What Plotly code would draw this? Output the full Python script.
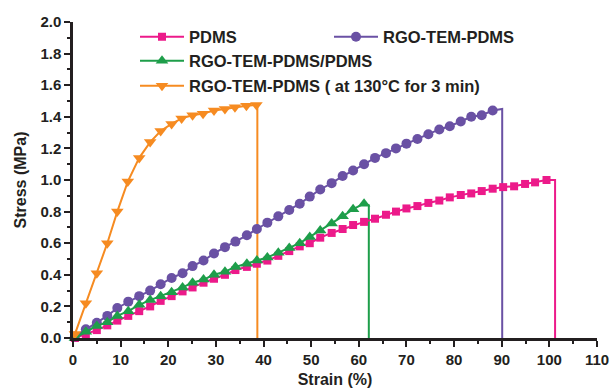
import plotly.graph_objects as go

# ---------------- data ----------------
grid = [0.4, 2.7, 5.0, 7.2, 9.3, 11.6, 13.9, 16.2, 18.4, 20.7, 23.0, 25.1, 27.4, 29.6, 31.9,
        34.1, 36.5, 38.6, 40.8, 43.1, 45.4, 47.6, 49.7, 51.9, 54.3, 56.6, 58.8, 61.1, 63.4,
        65.7, 67.8, 70.0, 72.3, 74.6, 76.9, 79.1, 81.4, 83.6, 85.8, 88.1, 90.3, 92.6, 94.9,
        97.0, 99.4]

pdms_strain = grid[:45]
pdms_stress = [0.0, 0.025, 0.05, 0.08, 0.11, 0.14, 0.17, 0.20, 0.235, 0.265,
               0.295, 0.32, 0.35, 0.375, 0.40, 0.43, 0.45, 0.47, 0.49, 0.52,
               0.55, 0.58, 0.60, 0.635, 0.665, 0.69, 0.715, 0.735, 0.755, 0.78,
               0.80, 0.82, 0.835, 0.855, 0.87, 0.89, 0.905, 0.915, 0.93, 0.945,
               0.955, 0.96, 0.975, 0.985, 1.0]
pdms_break = (101.2, 1.0)

rgo_strain = grid[:40]
rgo_stress = [0.01, 0.055, 0.097, 0.14, 0.19, 0.23, 0.265, 0.30, 0.34, 0.38,
              0.41, 0.455, 0.49, 0.535, 0.575, 0.61, 0.65, 0.69, 0.73, 0.77,
              0.81, 0.85, 0.895, 0.94, 0.98, 1.025, 1.06, 1.10, 1.14, 1.17,
              1.20, 1.23, 1.26, 1.29, 1.32, 1.34, 1.37, 1.40, 1.41, 1.44]
rgo_break = (90.1, 1.45)

mix_strain = grid[:28]
mix_stress = [0.0, 0.04, 0.076, 0.10, 0.14, 0.17, 0.21, 0.24, 0.265, 0.29,
              0.32, 0.35, 0.37, 0.40, 0.42, 0.45, 0.47, 0.49, 0.51, 0.54,
              0.57, 0.60, 0.64, 0.68, 0.725, 0.77, 0.815, 0.85]
mix_break = (62.1, 0.84)

hot_strain = [0.4, 2.7, 5.0, 7.2, 9.3, 11.5, 13.9, 16.2, 18.4, 20.7, 22.8, 25.1,
              27.3, 29.6, 31.9, 34.0, 36.4, 38.5]
hot_stress = [0.025, 0.22, 0.41, 0.60, 0.80, 0.99, 1.14, 1.24, 1.31, 1.355, 1.39,
              1.41, 1.42, 1.44, 1.45, 1.46, 1.47, 1.475]
hot_break = (38.7, 1.475)

names = ["PDMS", "RGO-TEM-PDMS", "RGO-TEM-PDMS/PDMS", "RGO-TEM-PDMS ( at 130°C for 3 min)"]
colors = ["#ec1a8a", "#6a51a4", "#1e9e4a", "#f68b21"]
symbols = ["square", "circle", "triangle-up", "triangle-down"]
sizes = [8, 10, 11, 11]
legends = ["legend", "legend", "legend2", "legend3"]

series = [(pdms_strain, pdms_stress, pdms_break),
          (rgo_strain, rgo_stress, rgo_break),
          (mix_strain, mix_stress, mix_break),
          (hot_strain, hot_stress, hot_break)]

FONT = "Liberation Sans, Arial, sans-serif"
TXT = "#231f20"

# plot area in pixels (for placing the legends in paper coordinates)
L, R, T, B = 73, 597, 22, 338
def px_x(p): return (p - L) / (R - L)
def px_y(p): return (B - p) / (B - T)

fig = go.Figure()
for i, (xs, ys, brk) in enumerate(series):
    fig.add_trace(go.Scatter(
        x=[xs[-1], brk[0], brk[0]], y=[ys[-1], brk[1], 0],
        mode="lines", line=dict(color=colors[i], width=2),
        showlegend=False, hoverinfo="skip", cliponaxis=False))
for i, (xs, ys, brk) in enumerate(series):
    fig.add_trace(go.Scatter(
        x=xs, y=ys, name=names[i], mode="lines+markers",
        line=dict(color=colors[i], width=2),
        marker=dict(symbol=symbols[i], size=sizes[i], color=colors[i],
                    line=dict(width=0)),
        cliponaxis=False, legend=legends[i]))

legfont = dict(family=FONT, size=16.5, color=TXT, weight="bold")
tickfont = dict(family=FONT, size=15, color=TXT, weight="bold")
titlefont = dict(family=FONT, size=16, color=TXT, weight="bold")
common = dict(font=legfont, bgcolor="rgba(0,0,0,0)", xref="paper", yref="paper",
              xanchor="left", yanchor="middle", itemwidth=44, borderwidth=0)

fig.update_layout(
    width=613, height=390,
    margin=dict(l=L, r=613 - R, t=T, b=390 - B, autoexpand=False),
    plot_bgcolor="white", paper_bgcolor="white",
    font=dict(family=FONT, size=15, color=TXT, weight="bold"),
    legend=dict(orientation="h", x=px_x(135), y=px_y(37), entrywidth=135, **common),
    legend2=dict(x=px_x(135), y=px_y(61), **common),
    legend3=dict(x=px_x(135), y=px_y(86), **common),
    xaxis=dict(range=[0, 110], tickmode="array", tickvals=list(range(0, 111, 10)),
               ticks="outside", ticklen=6, tickwidth=2, tickcolor=TXT,
               showline=True, linewidth=2.5, linecolor=TXT, showgrid=False, zeroline=False,
               minor=dict(dtick=5, ticks="outside", ticklen=3, tickwidth=2, tickcolor=TXT),
               tickfont=tickfont, automargin=False,
               title=dict(text="Strain (%)", standoff=8, font=titlefont)),
    yaxis=dict(range=[0, 2], dtick=0.2, tickformat=".1f",
               ticks="outside", ticklen=6, tickwidth=2, tickcolor=TXT,
               showline=True, linewidth=2.5, linecolor=TXT, showgrid=False, zeroline=False,
               minor=dict(dtick=0.1, ticks="outside", ticklen=3, tickwidth=2, tickcolor=TXT),
               tickfont=tickfont, automargin=False,
               title=dict(text="Stress (MPa)", standoff=10, font=titlefont)),
)

fig.write_html("out.html")
